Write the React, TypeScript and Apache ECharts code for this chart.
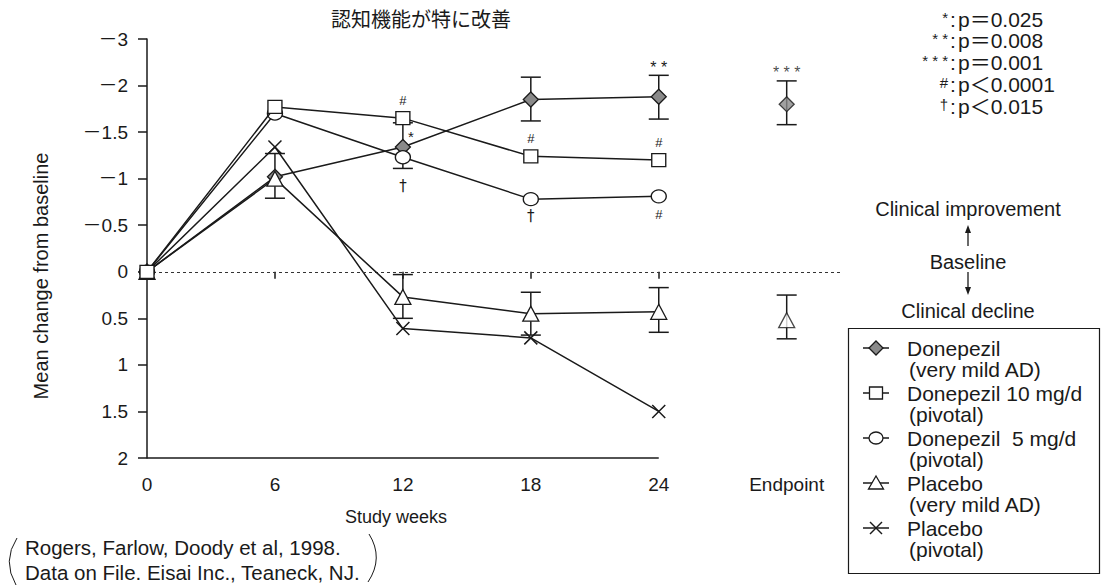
import React, { useEffect, useRef } from "react";
import * as echarts from "echarts";

// ---- data ----
const weeks = [0, 6, 12, 18, 24];
const endpointX = 30;
const donepezilMild = [0, -1.02, -1.34, -1.85, -1.88];
const donepezil10 = [0, -1.77, -1.65, -1.24, -1.2];
const donepezil5 = [0, -1.7, -1.23, -0.78, -0.81];
const placeboMild = [0, -1.0, 0.27, 0.45, 0.43];
const placeboPivotal = [0, -1.34, 0.61, 0.71, 1.5];
const endpointDonepezilMild = -1.8;
const endpointPlaceboMild = 0.52;
// [x, upper end, lower end]
const donepezilMildErr = [
  [12, -1.6, -1.11],
  [18, -2.09, -1.62],
  [24, -2.11, -1.64],
  [30, -2.05, -1.58],
];
const placeboMildErr = [
  [6, -1.27, -0.79],
  [12, 0.03, 0.5],
  [18, 0.22, 0.68],
  [24, 0.17, 0.65],
  [30, 0.25, 0.72],
];
const donepezilMildMarks = ["", "", "*", "", "* *"];
const donepezil10Marks = ["", "", "#", "#", "#"];
const donepezil5Marks = ["", "", "†", "†", "#"];
const endpointMark = "* * *";
const xTickValues = [0, 6, 12, 18, 24];
const xLabelValues = [0, 6, 12, 18, 24, 30];
const sigSymbols = ["*", "* *", "* * *", "#", "†"];
const sigTexts = ["p＝0.025", "p＝0.008", "p＝0.001", "p＜0.0001", "p＜0.015"];
const legendNames = ["Donepezil", "Donepezil 10 mg/d", "Donepezil  5 mg/d", "Placebo", "Placebo"];
const legendSubs = ["(very mild AD)", "(pivotal)", "(pivotal)", "(very mild AD)", "(pivotal)"];
const legendSymbols = ["diamond", "rect", "circle", "triangle", "cross"];

const INK = "#1a1a1a";
const FONT = '"Liberation Sans", Arial, "Noto Sans CJK JP", sans-serif';
const CJK = '"Noto Sans CJK JP", sans-serif';
const CROSS = "path://M0 0L20 20M20 0L0 20";

function markedData(ys: number[], marks: string[], place: (i: number) => any) {
  return weeks.map((w, i) => {
    const m = marks[i];
    if (!m) return { value: [w, ys[i]] };
    return {
      value: [w, ys[i]],
      label: { show: true, formatter: m, color: INK, fontFamily: FONT, ...place(i) },
    };
  });
}

function legendMarker(kind: string, cx: number, cy: number): any[] {
  const st = { fill: "#fff", stroke: INK, lineWidth: 1.3 };
  const els: any[] = [
    { type: "line", shape: { x1: cx - 13, y1: cy, x2: cx + 13, y2: cy }, style: { stroke: INK, lineWidth: 1.5 } },
  ];
  if (kind === "diamond")
    els.push({ type: "polygon", shape: { points: [[cx, cy - 7], [cx + 7, cy], [cx, cy + 7], [cx - 7, cy]] }, style: { fill: "#8a8a8a", stroke: INK, lineWidth: 1.3 } });
  if (kind === "rect") els.push({ type: "rect", shape: { x: cx - 6.5, y: cy - 6, width: 13, height: 12 }, style: st });
  if (kind === "circle") els.push({ type: "ellipse", shape: { cx, cy, rx: 7, ry: 6 }, style: st });
  if (kind === "triangle")
    els.push({ type: "polygon", shape: { points: [[cx, cy - 7], [cx + 7.5, cy + 6], [cx - 7.5, cy + 6]] }, style: st });
  if (kind === "cross") {
    els.push({ type: "line", shape: { x1: cx - 6, y1: cy - 6, x2: cx + 6, y2: cy + 6 }, style: { stroke: INK, lineWidth: 1.4 } });
    els.push({ type: "line", shape: { x1: cx + 6, y1: cy - 6, x2: cx - 6, y2: cy + 6 }, style: { stroke: INK, lineWidth: 1.4 } });
  }
  return els;
}

export default function App() {
  const ref = useRef<HTMLDivElement>(null);
  useEffect(() => {
    if (!ref.current) return;
    const chart = echarts.init(ref.current, null, { renderer: "svg" });

    const lineBase = (name: string, symbol: string, size: any, fill: string, z: number) => ({
      type: "line",
      name,
      symbol,
      symbolSize: size,
      showAllSymbol: true,
      z,
      lineStyle: { color: INK, width: 1.5 },
      itemStyle: { color: fill, borderColor: INK, borderWidth: 1.3 },
    });

    const graphics: any[] = [];
    const txt = (text: string, x: number, y: number, size: number, align = "left", family = FONT) => ({
      type: "text",
      x,
      y,
      style: { text, fontSize: size, fontFamily: family, fill: INK, align, verticalAlign: "middle" },
    });
    // y axis name
    graphics.push({
      type: "text",
      x: 41,
      y: 276,
      rotation: Math.PI / 2,
      style: { text: "Mean change from baseline", fontSize: 20, fontFamily: FONT, fill: INK, align: "center", verticalAlign: "middle" },
    });
    // x axis name
    graphics.push(txt("Study weeks", 396, 517, 18, "center"));
    // significance key
    sigSymbols.forEach((s, i) => {
      const y = 19 + i * 21.8;
      graphics.push(txt(s, 948, y - 2, 15, "right"));
      graphics.push(txt(":", 950, y, 21));
      graphics.push(txt(sigTexts[i], 958, y, 21));
    });
    // improvement / decline key
    const cx = 968;
    graphics.push(txt("Clinical improvement", cx, 209, 20, "center"));
    graphics.push({ type: "line", shape: { x1: cx, y1: 246, x2: cx, y2: 229 }, style: { stroke: INK, lineWidth: 1.3 } });
    graphics.push({ type: "polygon", shape: { points: [[cx - 3, 233], [cx + 3, 233], [cx, 225]] }, style: { fill: INK } });
    graphics.push(txt("Baseline", cx, 262, 20, "center"));
    graphics.push({ type: "line", shape: { x1: cx, y1: 272, x2: cx, y2: 290 }, style: { stroke: INK, lineWidth: 1.3 } });
    graphics.push({ type: "polygon", shape: { points: [[cx - 3, 287], [cx + 3, 287], [cx, 295]] }, style: { fill: INK } });
    graphics.push(txt("Clinical decline", cx, 311, 20, "center"));
    // legend box
    graphics.push({ type: "rect", shape: { x: 848.5, y: 328.5, width: 251, height: 245 }, style: { fill: "none", stroke: INK, lineWidth: 1.2 } });
    legendNames.forEach((n, i) => {
      const y = 348 + i * 45;
      legendMarker(legendSymbols[i], 876, y).forEach((e) => graphics.push(e));
      graphics.push(txt(n, 907, y, 21));
      graphics.push(txt(legendSubs[i], 909, y + 21, 21));
    });
    // citation
    graphics.push(txt("Rogers, Farlow, Doody et al, 1998.", 25, 547, 20.5));
    graphics.push(txt("Data on File. Eisai Inc., Teaneck, NJ.", 25, 572, 20.5));
    graphics.push({ type: "bezierCurve", shape: { x1: 17, y1: 538, x2: 16, y2: 585, cpx1: 2, cpy1: 561 }, style: { stroke: INK, lineWidth: 1, fill: "none" } });
    graphics.push({ type: "bezierCurve", shape: { x1: 369, y1: 534, x2: 368, y2: 582, cpx1: 384, cpy1: 558 }, style: { stroke: INK, lineWidth: 1, fill: "none" } });

    const option: any = {
      animation: false,
      title: {
        text: "認知機能が特に改善",
        left: 331,
        top: 8,
        padding: 0,
        textStyle: { fontSize: 20, fontWeight: "normal", color: INK, fontFamily: CJK },
      },
      grid: { left: 147, top: 39, width: 693, height: 419 },
      xAxis: {
        type: "value",
        min: 0,
        max: 32.5,
        axisLine: { show: false },
        splitLine: { show: false },
        axisTick: { show: true, customValues: xTickValues, length: 7, lineStyle: { color: INK, width: 1.5 } },
        axisLabel: {
          customValues: xLabelValues,
          formatter: (v: number) => (v === endpointX ? "Endpoint" : String(v)),
          margin: 17,
          fontSize: 19,
          color: INK,
          fontFamily: FONT,
        },
      },
      yAxis: {
        type: "value",
        inverse: true,
        min: -2.5,
        max: 2,
        interval: 0.5,
        axisLine: { show: true, lineStyle: { color: INK, width: 1.5 } },
        axisTick: { show: true, length: 9, lineStyle: { color: INK, width: 1.5 } },
        splitLine: { show: false },
        axisLabel: {
          formatter: (v: number) => (v === -2.5 ? "－3" : v < 0 ? "－" + String(-v) : String(v)),
          margin: 19,
          fontSize: 19,
          color: INK,
          fontFamily: FONT,
        },
      },
      graphic: graphics,
      series: [
        {
          type: "custom",
          name: "error bars",
          z: 1,
          silent: true,
          clip: false,
          encode: { x: 0, y: [1, 2] },
          data: [...donepezilMildErr, ...placeboMildErr],
          renderItem: (params: any, api: any) => {
            const x = api.value(0);
            const a = api.coord([x, api.value(1)]);
            const b = api.coord([x, api.value(2)]);
            const st = { stroke: INK, lineWidth: 1.5 };
            return {
              type: "group",
              children: [
                { type: "line", shape: { x1: a[0], y1: a[1], x2: b[0], y2: b[1] }, style: st },
                { type: "line", shape: { x1: a[0] - 10, y1: a[1], x2: a[0] + 10, y2: a[1] }, style: st },
                { type: "line", shape: { x1: b[0] - 10, y1: b[1], x2: b[0] + 10, y2: b[1] }, style: st },
              ],
            };
          },
          markLine: {
            silent: true,
            symbol: ["none", "none"],
            label: { show: false },
            animation: false,
            data: [
              [{ coord: [0, 0], lineStyle: { type: [3, 3], width: 1, color: "#333" } }, { coord: [32.5, 0] }],
              [{ coord: [0, 2], lineStyle: { type: "solid", width: 1.5, color: INK } }, { coord: [24, 2] }],
            ],
          },
        },
        {
          ...lineBase("Donepezil (very mild AD)", "diamond", [15, 15], "#8a8a8a", 3),
          data: markedData(donepezilMild, donepezilMildMarks, (i) =>
            i === 2
              ? { position: "right", distance: -3, offset: [0, -11], fontSize: 15 }
              : { position: "top", distance: 13, fontSize: 16 }
          ),
        },
        {
          ...lineBase("Placebo (pivotal)", CROSS, 13, INK, 4),
          itemStyle: { color: INK, borderColor: INK, borderWidth: 1.5 },
          data: weeks.map((w, i) => [w, placeboPivotal[i]]),
        },
        {
          ...lineBase("Placebo (very mild AD)", "triangle", [16, 15], "#fff", 5),
          data: weeks.map((w, i) => [w, placeboMild[i]]),
        },
        {
          ...lineBase("Donepezil 5 mg/d (pivotal)", "circle", [15, 13], "#fff", 6),
          data: markedData(donepezil5, donepezil5Marks, (i) => ({
            position: "bottom",
            distance: [0, 0, 14, 2, 5][i],
            fontSize: i === 4 ? 13 : 15,
            fontFamily: i === 4 ? FONT : '"DejaVu Sans", sans-serif',
          })),
        },
        {
          ...lineBase("Donepezil 10 mg/d (pivotal)", "rect", [14, 13], "#fff", 7),
          data: markedData(donepezil10, donepezil10Marks, () => ({ position: "top", distance: 4, fontSize: 13 })),
        },
        {
          type: "scatter",
          name: "Donepezil (very mild AD) endpoint",
          symbol: "diamond",
          symbolSize: [15, 15],
          z: 3,
          clip: false,
          itemStyle: { color: "#8a8a8a", borderColor: INK, borderWidth: 1.3 },
          data: [
            {
              value: [endpointX, endpointDonepezilMild],
              label: { show: true, formatter: endpointMark, position: "top", distance: 16, fontSize: 16, color: INK, fontFamily: FONT },
            },
          ],
        },
        {
          type: "scatter",
          name: "Placebo (very mild AD) endpoint",
          symbol: "triangle",
          symbolSize: [16, 15],
          z: 3,
          clip: false,
          itemStyle: { color: "#fff", borderColor: INK, borderWidth: 1.3 },
          data: [[endpointX, endpointPlaceboMild]],
        },
      ],
    };
    chart.setOption(option);
    return () => chart.dispose();
  }, []);
  return (
    <div
      ref={ref}
      style={{ position: "fixed", left: 0, top: 0, width: 1103, height: 587, background: "#fff" }}
    />
  );
}
